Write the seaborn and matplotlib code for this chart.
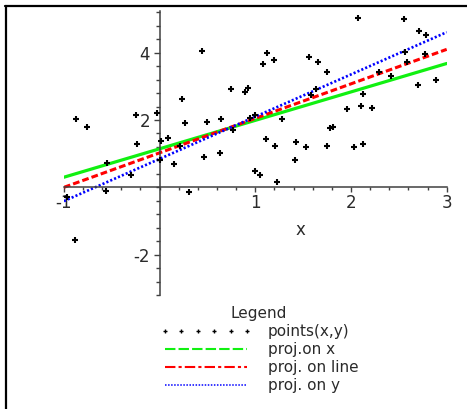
import matplotlib
matplotlib.use("Agg")
import matplotlib.pyplot as plt
from matplotlib.lines import Line2D
from matplotlib.ticker import MultipleLocator, FixedLocator
import pandas as pd
import seaborn as sns

# Sample points (x, y)
pts_x = [-0.874, -0.755, -0.247, -0.030, 0.234, 0.267, 0.440, 0.498, 0.642, 0.748,
         0.762, -0.233, 0.018, 0.091, 0.216, 0.892, 0.920, 1.080, 1.125, 1.200,
         0.948, 0.994, 1.284, 1.110, 1.210, 1.430, 1.535, 1.750, 2.030, 2.130,
         1.560, 1.650, 1.750, 1.577, 1.637, 2.070, 1.780, 1.810, 1.955, 2.100,
         2.220, 2.130, 2.290, 2.420, 2.550, 2.710, 2.786, 2.567, 2.587, 2.770,
         2.700, 2.890, -0.550, -0.304, 0.007, 0.147, -0.562, -0.970, -0.884, 0.307,
         0.467, 0.626, 1.418, 0.994, 1.054, 1.229]
pts_y = [2.04, 1.78, 2.16, 2.20, 2.62, 1.90, 4.04, 1.95, 2.04, 2.91,
         1.69, 1.28, 1.37, 1.46, 1.24, 2.82, 2.94, 3.66, 4.00, 3.78,
         2.05, 2.15, 2.03, 1.45, 1.24, 1.36, 1.19, 1.24, 1.19, 1.28,
         3.87, 3.71, 3.42, 2.75, 2.91, 5.04, 1.75, 1.78, 2.33, 2.41,
         2.37, 2.78, 3.44, 3.32, 4.99, 4.66, 4.53, 4.03, 3.73, 3.95,
         3.03, 3.20, 0.73, 0.365, 0.81, 0.70, -0.10, -0.30, -1.56, -0.15,
         0.91, 1.03, 0.82, 0.48, 0.36, 0.15]

# Fitted lines, values at the ends of the x range
line_x = [-1.0, 3.0]
proj_on_x = [0.30, 3.68]
proj_on_line = [0.00, 4.10]
proj_on_y = [-0.41, 4.61]

series_labels = ["points(x,y)", "proj.on x", "proj. on line", "proj. on y"]
x_ticks = [-1, 1, 2, 3]
y_ticks = [-2, 2, 4]

GREEN = "#11f011"
RED = "#ff0000"
BLUE = "#0000ff"
AXIS = "#404040"
TEXT = "#2a2a2a"

sns.set_theme(style="white")
plt.rcParams["font.family"] = ["DejaVu Sans"]
plt.rcParams["axes.unicode_minus"] = False

W, H = 467, 409
fig = plt.figure(figsize=(W / 100, H / 100), dpi=100)
ax = fig.add_axes([63.9 / W, 114 / H, 382.8 / W, 284 / H])
ax.set_facecolor("none")

pts = pd.DataFrame({"x": pts_x, "y": pts_y})

sns.lineplot(x=line_x, y=proj_on_x, color=GREEN, linewidth=2.3, ax=ax, zorder=2)
sns.lineplot(x=line_x, y=proj_on_line, color=RED, linewidth=2.2,
             linestyle=(0, (2.2, 1.0)), ax=ax, zorder=2)
sns.lineplot(x=line_x, y=proj_on_y, color=BLUE, linewidth=1.9,
             linestyle=(0, (0.8, 0.8)), ax=ax, zorder=2)
sns.scatterplot(data=pts, x="x", y="y", marker="+", s=22, color="black",
                linewidth=1.5, ax=ax, zorder=3)

ax.set_xlim(-1, 3)
ax.set_ylim(-3.20, 5.24)

# Axes crossing at the origin
for side in ("top", "right"):
    ax.spines[side].set_visible(False)
ax.spines["left"].set_position(("data", 0))
ax.spines["bottom"].set_position(("data", 0))
for side in ("left", "bottom"):
    ax.spines[side].set_color(AXIS)
    ax.spines[side].set_linewidth(1.1)

ax.xaxis.set_major_locator(FixedLocator(x_ticks))
ax.yaxis.set_major_locator(FixedLocator(y_ticks))
ax.xaxis.set_minor_locator(MultipleLocator(0.2))
ax.yaxis.set_minor_locator(MultipleLocator(0.4))
ax.set_xticklabels([str(t) for t in x_ticks])
ax.set_yticklabels([str(t) for t in y_ticks])

ax.tick_params(axis="x", which="both", bottom=True, direction="out",
               color=AXIS, width=1.0, labelsize=12, labelcolor=TEXT, pad=1.5)
ax.tick_params(axis="x", which="major", length=3.6)
ax.tick_params(axis="x", which="minor", length=2.0)
ax.tick_params(axis="y", which="both", left=True, direction="out",
               color=AXIS, width=1.0, labelsize=12, labelcolor=TEXT, pad=2.5)
ax.tick_params(axis="y", which="major", length=4.3)
ax.tick_params(axis="y", which="minor", length=2.9)

ax.set_ylabel("")
ax.set_xlabel("x", fontsize=12, color=TEXT, va="baseline")
ax.xaxis.set_label_coords(0.619, 0.211)

handles = [
    Line2D([], [], ls="none", marker="+", color="black", ms=3, mew=1.0),
    Line2D([], [], color=GREEN, lw=1.5, ls=(0, (5, 1.5))),
    Line2D([], [], color=RED, lw=1.5, ls=(0, (5, 1.5, 1.5, 1.5))),
    Line2D([], [], color=BLUE, lw=1.1, ls=(0, (1, 1))),
]
leg = fig.legend(handles, series_labels, title="Legend", frameon=False,
                 loc="upper left", bbox_to_anchor=(160 / W, 1 - 306 / H),
                 numpoints=6, handlelength=6.0, handletextpad=1.05,
                 labelspacing=0.2, borderpad=0.0, borderaxespad=0.0,
                 fontsize=11, title_fontsize=11)
for t in leg.get_texts():
    t.set_color(TEXT)
leg.get_title().set_color(TEXT)

# Frame along the left and top edges
fig.add_artist(Line2D([6 / W, 6 / W], [0, 1 - 6 / H], color="black", lw=1.6,
                      transform=fig.transFigure))
fig.add_artist(Line2D([5 / W, 1], [1 - 6 / H, 1 - 6 / H], color="black", lw=1.6,
                      transform=fig.transFigure))

fig.savefig("out.png", dpi=100)
